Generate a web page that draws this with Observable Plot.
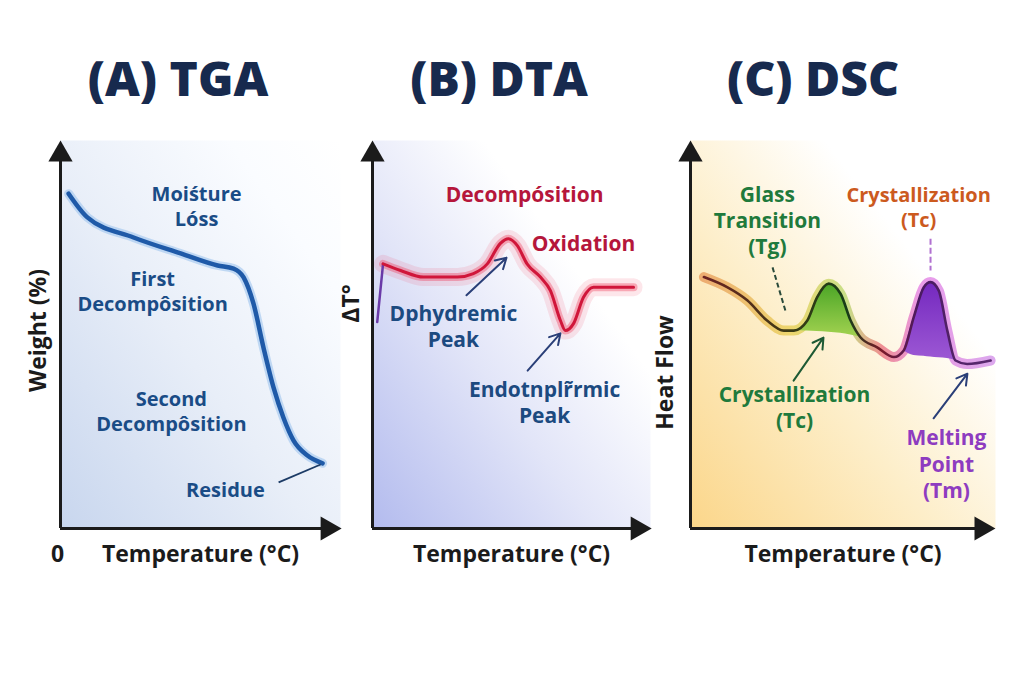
<!DOCTYPE html>
<html><head><meta charset="utf-8">
<script src="https://cdn.jsdelivr.net/npm/d3@7"></script>
<script src="https://cdn.jsdelivr.net/npm/@observablehq/plot@0.6"></script>
<style>
body{margin:0;background:#fff;}
#wrap{position:relative;width:1024px;height:683px;overflow:hidden;background:#fff;}
.title{position:absolute;top:54px;font-family:"Open Sans","DejaVu Sans",sans-serif;font-weight:800;font-size:48px;color:#172a4e;transform:translateX(-50%);white-space:nowrap;line-height:1;}
.panel{position:absolute;top:120px;}
</style></head><body><div id="wrap"></div>
<script>
// ---------- data ----------
const titles = ["(A) TGA", "(B) DTA", "(C) DSC"];
const xLabel = "Temperature (°C)";
const yLabels = ["Weight (%)", "ΔT°", "Heat Flow"];

// TGA curve
const tgaTemp   = [2.9, 9.6, 26.1, 42.9, 56.1, 61.8, 65.4, 68.9, 72.5, 76.1, 79.6, 83.2, 88.2, 93.6];
const tgaWeight = [86.3, 80.2, 75, 70.9, 67.8, 67, 64.7, 58, 46.6, 36.3, 28.6, 22.7, 18.8, 16.8];
const tgaLabels = [
  {t: "Moiśture\nLóss", x: 48.6, y: 83.2},
  {t: "First\nDecompôsition", x: 32.9, y: 61.3},
  {t: "Second\nDecompôsition", x: 39.6, y: 30.4},
  {t: "Residue", x: 58.9, y: 10.3}
];
const tgaLeaders = [{x1: 77.9, y1: 11.9, x2: 92.9, y2: 16.5}];

// DTA curve
const dtaTemp  = [1.7, 3.8, 10.1, 18.3, 30.5, 36.3, 41.3, 46, 48.9, 52.1, 55.6, 60.4, 64, 67.6, 69.4, 72.3, 75.9, 79.5, 93.9];
const dtaDelta = [53.2, 68.2, 66.5, 64.8, 64.8, 65.7, 68.2, 73.5, 74.7, 72.9, 68.2, 64.8, 61.3, 53.6, 51, 52.8, 59.6, 62.2, 62.2];
const dtaRedLabels = [
  {t: "Decompósition", x: 54.7, y: 86.3},
  {t: "Oxidation", x: 75.9, y: 73.7}
];
const dtaBlueLabels = [
  {t: "Dphydremic\nPeak", x: 29.1, y: 52.3},
  {t: "Endotnplr\u0303rmic\nPeak", x: 61.9, y: 32.7}
];
const dtaArrows = [
  {x1: 33.8, y1: 60.1, x2: 48.2, y2: 69.8},
  {x1: 55.8, y1: 40.7, x2: 67.6, y2: 50.3}
];

// DSC curve
const dscTemp = [4.4, 12, 18.6, 25.1, 30.6, 33.9, 38.3, 41.5, 45.3, 49.2, 52.5, 55.7, 61.2, 66.7, 69.9, 73.2, 76.5, 78.7, 81.4, 84.2, 86.9, 90.7, 98.4];
const dscFlow = [64.8, 62.2, 58.8, 53.6, 51, 51, 53.6, 59.6, 63.1, 60.5, 53.6, 49.3, 46.7, 44.2, 45.9, 54.5, 62.2, 63.5, 61.3, 51, 43.3, 42.4, 43.3];
const crystRange = [5, 11];   // index range of the crystallization peak
const crystBase = [51, 50.9, 50.8, 50.6, 50.3, 49.9, 49.3];
const meltRange = [14, 20];   // index range of the melting peak
const meltBase = [45.9, 44.6, 44.4, 44.2, 44, 43.8, 43.3];
const dscGreenLabels = [
  {t: "Glass\nTransition\n(Tg)", x: 25.2, y: 79.6},
  {t: "Crystallization\n(Tc)", x: 34.1, y: 31.4}
];
const dscOrangeLabels = [{t: "Crystallization\n(Tc)", x: 74.8, y: 83}];
const dscPurpleLabels = [{t: "Melting\nPoint\n(Tm)", x: 83.9, y: 16.8}];
const dscDashDark = [{x1: 26.9, y1: 67.3, x2: 31.1, y2: 56.2}];
const dscDashPurple = [{x1: 78.7, y1: 74.7, x2: 78.7, y2: 66.5}];
const dscArrowGreen = [{x1: 33.8, y1: 38.1, x2: 43.6, y2: 49.2}];
const dscArrowNavy = [{x1: 79.7, y1: 28.4, x2: 90.8, y2: 39.9}];

// axis ends (data units)
const axisY = [{x: 0, y1: 0, y2: 96}];
const axisX = [{y: 0, x1: 0, x2: 95}];
const arrowUp = [{x: 0, y: 96.4}];
const arrowRight = [{x: 95.4, y: 0}];

// ---------- helpers ----------
const F = "'Open Sans','DejaVu Sans',sans-serif";
const FA = "'Open Sans','DejaVu Sans',sans-serif";
const AX = "#1b1b1b";

function gradientDefs(grads) {
  return () => {
    const ns = "http://www.w3.org/2000/svg";
    const defs = document.createElementNS(ns, "defs");
    for (const gr of grads) {
      const lg = document.createElementNS(ns, "linearGradient");
      lg.setAttribute("id", gr.id);
      lg.setAttribute("x1", gr.x1); lg.setAttribute("y1", gr.y1);
      lg.setAttribute("x2", gr.x2); lg.setAttribute("y2", gr.y2);
      for (const [o, c, op] of gr.stops) {
        const s = document.createElementNS(ns, "stop");
        s.setAttribute("offset", o);
        s.setAttribute("stop-color", c);
        s.setAttribute("stop-opacity", op ?? 1);
        lg.appendChild(s);
      }
      defs.appendChild(lg);
    }
    return defs;
  };
}

function axes() {
  return [
    Plot.ruleX(axisY, {x: "x", y1: "y1", y2: "y2", stroke: AX, strokeWidth: 3}),
    Plot.ruleY(axisX, {y: "y", x1: "x1", x2: "x2", stroke: AX, strokeWidth: 3}),
    Plot.dot(arrowUp, {x: "x", y: "y", symbol: "triangle", r: 9, fill: AX, stroke: null}),
    Plot.dot(arrowRight, {x: "x", y: "y", symbol: "triangle", r: 9, fill: AX, stroke: null, rotate: 90})
  ];
}

function labels(data, color, size) {
  return Plot.text(data, {x: "x", y: "y", text: "t", fill: color, fontSize: size, fontWeight: "bold",
    fontFamily: F, lineHeight: 1.25});
}

function axisLabels(i, yDx, yDy) {
  return [
    Plot.text([xLabel], {frameAnchor: "bottom", dy: 26, textAnchor: "middle", lineAnchor: "middle",
      fontSize: 23, fontWeight: "bold", fontFamily: FA, fill: AX}),
    Plot.text([yLabels[i]], {frameAnchor: "left", dx: yDx, dy: yDy, rotate: -90, textAnchor: "middle", lineAnchor: "middle",
      fontSize: 23, fontWeight: "bold", fontFamily: FA, fill: AX})
  ];
}

function basePlot(w, ml, mr, marks) {
  return Plot.plot({
    width: w, height: 460, marginLeft: ml, marginRight: mr, marginTop: 20, marginBottom: 52,
    x: {domain: [0, 100], axis: null}, y: {domain: [0, 100], axis: null},
    style: {background: "transparent", overflow: "visible"},
    marks
  });
}

const wrap = document.getElementById("wrap");
function place(el, left) {
  el.classList.add("panel");
  el.style.left = left + "px";
  wrap.appendChild(el);
}

// ---------- Panel A: TGA ----------
const tga = tgaTemp.map((x, i) => ({x, y: tgaWeight[i]}));
const plotA = basePlot(360, 60, 20, [
  gradientDefs([{id: "bgA", x1: 0, y1: 1, x2: 1, y2: 0,
    stops: [[0, "#c8d6ee"], [0.45, "#e8eef8"], [0.8, "#fafcff"], [1, "#ffffff"]]}]),
  Plot.frame({fill: "url(#bgA)", stroke: "none"}),
  Plot.line(tga, {x: "x", y: "y", stroke: "#9fc4ee", strokeWidth: 9, strokeOpacity: 0.6, curve: "monotone-x"}),
  Plot.line(tga, {x: "x", y: "y", stroke: "#1f5aa8", strokeWidth: 4.5, curve: "monotone-x"}),
  Plot.link(tgaLeaders, {x1: "x1", y1: "y1", x2: "x2", y2: "y2", stroke: "#1c3b66", strokeWidth: 1.8}),
  labels(tgaLabels, "#1a4c86", 20),
  Plot.text(["0"], {frameAnchor: "bottom-left", dy: 26, dx: -3, textAnchor: "middle", lineAnchor: "middle",
    fontSize: 23, fontWeight: "bold", fontFamily: FA, fill: AX}),
  ...axisLabels(0, -22, -4),
  ...axes()
]);
place(plotA, 0);

// ---------- Panel B: DTA ----------
const dta = dtaTemp.map((x, i) => ({x, y: dtaDelta[i]}));
const plotB = basePlot(340, 42, 20, [
  gradientDefs([{id: "bgB", x1: 0, y1: 1, x2: 1, y2: 0,
    stops: [[0, "#b3bbee"], [0.4, "#e2e5f8"], [0.7, "#ffffff"], [1, "#ffffff"]]}]),
  Plot.frame({fill: "url(#bgB)", stroke: "none"}),
  Plot.line(dta.slice(1), {x: "x", y: "y", stroke: "#f0405a", strokeWidth: 18, strokeOpacity: 0.13, curve: "monotone-x"}),
  Plot.line(dta.slice(1), {x: "x", y: "y", stroke: "#ee3050", strokeWidth: 8, strokeOpacity: 0.35, curve: "monotone-x"}),
  Plot.line(dta.slice(0, 2), {x: "x", y: "y", stroke: "#6a3aa8", strokeWidth: 2.5}),
  Plot.line(dta.slice(1), {x: "x", y: "y", stroke: "#d0163a", strokeWidth: 3, curve: "monotone-x"}),
  Plot.arrow(dtaArrows, {x1: "x1", y1: "y1", x2: "x2", y2: "y2", stroke: "#2a3f78", strokeWidth: 2, headLength: 9}),
  labels(dtaRedLabels, "#b5163b", 21),
  labels(dtaBlueLabels, "#1c4a80", 21),
  ...axisLabels(1, -21, -31),
  ...axes()
]);
place(plotB, 330);

// ---------- Panel C: DSC ----------
const dsc = dscTemp.map((x, i) => ({x, y: dscFlow[i]}));
const cryst = d3.range(crystRange[0], crystRange[1] + 1).map((k, j) => ({x: dscTemp[k], top: dscFlow[k], base: crystBase[j]}));
const melt = d3.range(meltRange[0], meltRange[1] + 1).map((k, j) => ({x: dscTemp[k], top: dscFlow[k], base: meltBase[j]}));
const plotC = basePlot(384, 50, 29, [
  gradientDefs([
    {id: "bgC", x1: 0, y1: 1, x2: 1, y2: 0,
      stops: [[0, "#fbd68a"], [0.4, "#fdeec9"], [0.72, "#ffffff"], [1, "#ffffff"]]},
    {id: "glowC", x1: 0, y1: 0, x2: 1, y2: 0,
      stops: [[0, "#e07a30"], [0.3, "#e0c020"], [0.5, "#9acb3c"], [0.62, "#e23a50"], [0.75, "#d848d8"], [1, "#c060e0"]]},
    {id: "lineC", x1: 0, y1: 0, x2: 1, y2: 0,
      stops: [[0, "#6b2222"], [0.3, "#3b3a14"], [0.5, "#163d18"], [0.62, "#7a1a2a"], [0.75, "#4a1a60"], [1, "#5a2a70"]]},
    {id: "greenF", x1: 0, y1: 0, x2: 0, y2: 1,
      stops: [[0, "#4aa526"], [1, "#a2d250"]]},
    {id: "purpleF", x1: 0, y1: 0, x2: 0, y2: 1,
      stops: [[0, "#7428bf"], [1, "#9c58d4"]]}
  ]),
  Plot.frame({fill: "url(#bgC)", stroke: "none"}),
  Plot.line(dsc, {x: "x", y: "y", stroke: "url(#glowC)", strokeWidth: 10, strokeOpacity: 0.55, curve: "monotone-x"}),
  Plot.areaY(cryst, {x: "x", y1: "base", y2: "top", fill: "url(#greenF)", curve: "monotone-x"}),
  Plot.areaY(melt, {x: "x", y1: "base", y2: "top", fill: "url(#purpleF)", curve: "monotone-x"}),
  Plot.line(dsc, {x: "x", y: "y", stroke: "url(#lineC)", strokeWidth: 2.6, curve: "monotone-x"}),
  Plot.link(dscDashDark, {x1: "x1", y1: "y1", x2: "x2", y2: "y2", stroke: "#2a4a3a", strokeWidth: 2, strokeDasharray: "5,3"}),
  Plot.link(dscDashPurple, {x1: "x1", y1: "y1", x2: "x2", y2: "y2", stroke: "#b070d0", strokeWidth: 2, strokeDasharray: "6,3"}),
  Plot.arrow(dscArrowGreen, {x1: "x1", y1: "y1", x2: "x2", y2: "y2", stroke: "#1d5a34", strokeWidth: 2, headLength: 9}),
  Plot.arrow(dscArrowNavy, {x1: "x1", y1: "y1", x2: "x2", y2: "y2", stroke: "#2a3f78", strokeWidth: 2, headLength: 9}),
  labels(dscGreenLabels, "#1f7a3c", 21),
  labels(dscOrangeLabels, "#cc5a1e", 20),
  labels(dscPurpleLabels, "#8e3cc0", 21),
  ...axisLabels(2, -25, 38),
  ...axes()
]);
place(plotC, 640);

// ---------- titles ----------
[178, 499, 813].forEach((cx, i) => {
  const d = document.createElement("div");
  d.className = "title";
  d.textContent = titles[i];
  d.style.left = cx + "px";
  wrap.appendChild(d);
});
</script>
</body></html>
